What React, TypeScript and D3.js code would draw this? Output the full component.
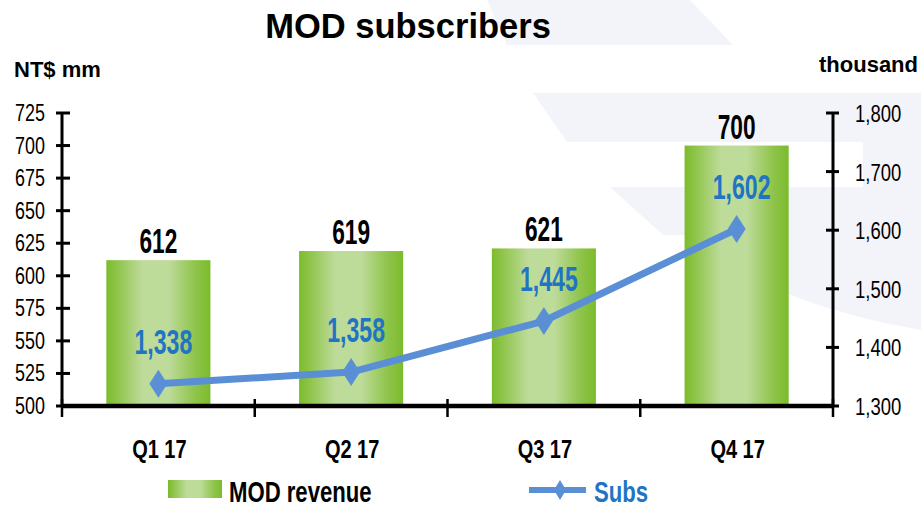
import React from "react";
import * as d3 from "d3";

const categories = ["Q1 17", "Q2 17", "Q3 17", "Q4 17"];
const revenue = [612, 619, 621, 700];
const subs = [1338, 1358, 1445, 1602];
const leftTicks = [500, 525, 550, 575, 600, 625, 650, 675, 700, 725];
const rightTicks = [1300, 1400, 1500, 1600, 1700, 1800];

const W = 921;
const H = 509;
const FONT = "'Liberation Sans', Arial, Helvetica, sans-serif";

const x0 = 62;
const x1 = 833;
const yTop = 113;
const yBot = 406;

function Txt(props: {
  x: number;
  y: number;
  sx?: number;
  sy?: number;
  size: number;
  bold?: boolean;
  fill?: string;
  anchor?: string;
  children: React.ReactNode;
}) {
  const { x, y, sx = 1, sy = 1, size, bold, fill = "#000", anchor = "start", children } = props;
  return (
    <text
      transform={`translate(${x},${y}) scale(${sx},${sy})`}
      fontFamily={FONT}
      fontSize={size}
      fontWeight={bold ? 700 : 400}
      fill={fill}
      textAnchor={anchor}
    >
      {children}
    </text>
  );
}

export default function App() {
  const x = d3.scaleBand<string>().domain(categories).range([x0, x1]).paddingInner(0.46).paddingOuter(0.23);
  const yL = d3.scaleLinear().domain([500, 725]).range([yBot, yTop]);
  const yR = d3.scaleLinear().domain([1300, 1800]).range([yBot, yTop]);
  const step = x.step();
  const bw = x.bandwidth();
  const cx = (c: string) => (x(c) as number) + bw / 2;
  const fmt = d3.format(",");

  const line = d3
    .line<number>()
    .x((_, i) => cx(categories[i]))
    .y((d) => yR(d));

  const diamond = (px: number, py: number, hw: number, hh: number) =>
    `M${px},${py - hh}L${px + hw},${py}L${px},${py + hh}L${px - hw},${py}Z`;

  const boundaries = d3.range(categories.length + 1).map((i) => x0 + i * step);
  const wm = "#f3f4f9";

  return (
    <svg width={W} height={H} style={{ position: "absolute", left: 0, top: 0, background: "#fff" }}>
      <defs>
        <linearGradient id="barGrad" x1="0" x2="1" y1="0" y2="0">
          <stop offset="0" stopColor="#7cbb2c" />
          <stop offset="0.12" stopColor="#92c650" />
          <stop offset="0.35" stopColor="#bedb9a" />
          <stop offset="0.6" stopColor="#bddb99" />
          <stop offset="0.85" stopColor="#8fc44b" />
          <stop offset="1" stopColor="#7cbb2c" />
        </linearGradient>
      </defs>

      {/* watermark */}
      <g fill={wm}>
        <path d="M487,0L690,0L733,45L507,45Z" />
        <path d="M533,93L921,93L921,142L567,142Z" />
        <path d="M863,142L921,142L921,190L863,190Z" />
        <path d="M610,187L921,187L921,235L663,235Z" />
        <path d="M700,235L921,235L921,330C850,318 790,298 740,272Z" />
      </g>

      {/* title */}
      <Txt x={408} y={38} size={34.5} bold anchor="middle">MOD subscribers</Txt>
      <Txt x={14} y={77} size={22} bold>NT$ mm</Txt>
      <Txt x={918} y={72} size={22} bold anchor="end">thousand</Txt>

      {/* bars */}
      {categories.map((c, i) => (
        <rect key={c} x={x(c)} y={yL(revenue[i])} width={bw} height={yBot - yL(revenue[i])} fill="url(#barGrad)" />
      ))}

      {/* left axis */}
      <line x1={x0} x2={x0} y1={yTop} y2={yBot} stroke="#000" strokeWidth={3} />
      {leftTicks.map((t) => (
        <g key={t}>
          <line x1={x0 - 6} x2={x0 + 8} y1={yL(t)} y2={yL(t)} stroke="#000" strokeWidth={3} />
          <Txt x={45} y={yL(t) + 8} size={23} sx={0.78} anchor="end">{t}</Txt>
        </g>
      ))}

      {/* right axis */}
      <line x1={x1} x2={x1} y1={yTop} y2={yBot} stroke="#000" strokeWidth={3} />
      {rightTicks.map((t) => (
        <g key={t}>
          <line x1={x1 - 7} x2={x1 + 6} y1={yR(t)} y2={yR(t)} stroke="#000" strokeWidth={3} />
          <Txt x={855} y={yR(t) + 9} size={24} sx={0.77}>{fmt(t)}</Txt>
        </g>
      ))}

      {/* bottom axis */}
      <line x1={x0} x2={x1} y1={yBot} y2={yBot} stroke="#000" strokeWidth={4.5} />
      {boundaries.map((b, i) => (
        <line key={i} x1={b} x2={b} y1={yBot - 7} y2={yBot + 11} stroke="#000" strokeWidth={2.5} />
      ))}
      {categories.map((c) => (
        <Txt key={c} x={cx(c) + 1} y={458} size={25} sx={0.8} bold anchor="middle">{c}</Txt>
      ))}

      {/* bar value labels */}
      {categories.map((c, i) => (
        <Txt key={c} x={cx(c)} y={yL(revenue[i]) - 7} size={36} sx={0.63} bold anchor="middle">{revenue[i]}</Txt>
      ))}

      {/* subs line */}
      <path d={line(subs) || ""} fill="none" stroke="#5a8fd5" strokeWidth={7} strokeLinejoin="round" />
      {subs.map((s, i) => (
        <path key={i} d={diamond(cx(categories[i]), yR(s), 9, 14)} fill="#5a8fd5" />
      ))}
      {subs.map((s, i) => (
        <Txt key={i} x={cx(categories[i]) + 5} y={yR(s) - 30} size={35} sx={0.66} bold fill="#1f74c3" anchor="middle">{fmt(s)}</Txt>
      ))}

      {/* legend */}
      <rect x={168} y={480} width={54} height={18} fill="url(#barGrad)" />
      <Txt x={229} y={502} size={27} sx={0.82} sy={1.07} bold>MOD revenue</Txt>
      <line x1={529} x2={586} y1={490} y2={490} stroke="#5a8fd5" strokeWidth={6} />
      <path d={diamond(560, 490, 6, 10)} fill="#5a8fd5" />
      <Txt x={594} y={502} size={27} sx={0.82} sy={1.07} bold fill="#1f74c3">Subs</Txt>
    </svg>
  );
}
